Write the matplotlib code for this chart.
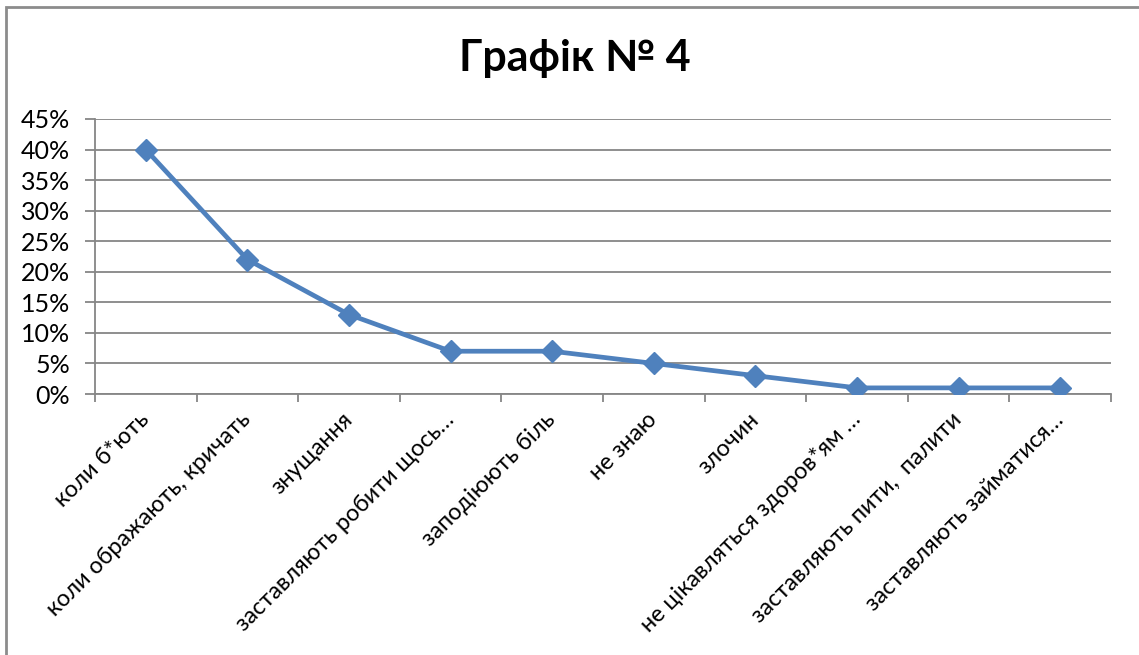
import matplotlib
matplotlib.use("Agg")
import matplotlib.pyplot as plt
from matplotlib.patches import Rectangle
from matplotlib.ticker import FixedLocator, PercentFormatter

categories = [
    "коли б*ють",
    "коли ображають, кричать",
    "знущання",
    "заставляють робити щось…",
    "заподіюють біль",
    "не знаю",
    "злочин",
    "не цікавляться здоров*ям …",
    "заставляють пити,  палити",
    "заставляють займатися…",
]
values = [40, 22, 13, 7, 7, 5, 3, 1, 1, 1]
title = "Графік № 4"

plt.rcParams['font.family'] = ['Lato', 'DejaVu Sans']

W, H = 1139, 655
fig = plt.figure(figsize=(W / 100, H / 100), dpi=100)
ax = fig.add_axes([95 / W, 1 - 394 / H, (1111 - 95) / W, (394 - 119) / H])

grid_c = '#868686'
x = list(range(1, len(categories) + 1))
ax.plot(x, values, color='#4F81BD', lw=3.4, marker='D', markersize=11,
        markerfacecolor='#4F81BD', markeredgecolor='#4F81BD', zorder=3)

ax.set_xlim(0.5, len(categories) + 0.5)
ax.set_ylim(0, 45)
ax.yaxis.set_major_locator(FixedLocator([0, 5, 10, 15, 20, 25, 30, 35, 40, 45]))
ax.yaxis.set_major_formatter(PercentFormatter(decimals=0))
ax.yaxis.grid(True, color=grid_c, lw=1.3)
ax.set_axisbelow(True)

ax.set_xticks([i + 0.5 for i in range(0, len(categories) + 1)])
ax.set_xticklabels([])
ax.set_xticks(x, minor=True)
ax.set_xticklabels(categories, minor=True, rotation=45, ha='right', va='center',
                   rotation_mode='anchor', fontsize=16.8)
ax.tick_params(axis='x', which='minor', length=0, pad=16)
ax.tick_params(axis='x', which='major', length=6, color=grid_c, width=1.3)
ax.tick_params(axis='y', length=7, color=grid_c, width=1.3, labelsize=18, pad=11)

for s in ['top', 'right']:
    ax.spines[s].set_visible(False)
for s in ['left', 'bottom']:
    ax.spines[s].set_color(grid_c)
    ax.spines[s].set_linewidth(1.3)

fig.text(575 / W, 1 - 58 / H, title, ha='center', va='center',
         fontsize=31, fontweight='bold')

fig.add_artist(Rectangle((6 / W, -0.1), 2, 1 - 7 / H + 0.1, transform=fig.transFigure,
                         fill=False, edgecolor='#8c8c8c', lw=2, clip_on=False))

fig.savefig('out.png', dpi=100)
